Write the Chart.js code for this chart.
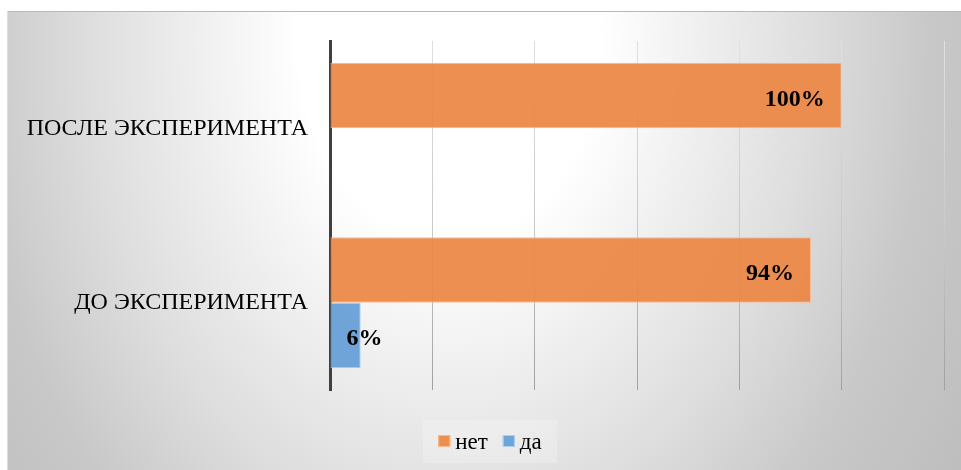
<!DOCTYPE html>
<html>
<head>
<meta charset="utf-8">
<script src="https://cdn.jsdelivr.net/npm/chart.js@4.4.1/dist/chart.umd.min.js"></script>
<style>
  html, body { margin: 0; padding: 0; background: #fff; }
  canvas { display: block; }
</style>
</head>
<body>
<canvas id="c" width="961" height="470"></canvas>
<script>
// Categories (top to bottom) and the two answer series, in percent
const categories = ['ПОСЛЕ ЭКСПЕРИМЕНТА', 'ДО ЭКСПЕРИМЕНТА'];
const seriesNames = ['нет', 'да'];
const netValues = [100, 94];
const daValues = [0, 6];
// Value axis: 0..120 with a gridline every 20 (tick labels hidden)
const axisMin = 0;
const axisMax = 120;
const axisStep = 20;

const SERIF = "'Liberation Serif', 'Times New Roman', serif";
const ORANGE = 'rgba(236,135,68,0.93)';
const ORANGE_EDGE = 'rgba(247,186,146,1)';
const BLUE = 'rgba(100,158,214,0.93)';
const BLUE_EDGE = 'rgba(176,206,234,1)';

// Light radial backdrop with a thin frame
const backdrop = {
  id: 'backdrop',
  beforeDraw(chart) {
    const { ctx, width, height } = chart;
    const fx = 7, fy = 11;
    ctx.save();
    ctx.fillStyle = '#ffffff';
    ctx.fillRect(0, 0, width, height);
    ctx.beginPath();
    ctx.rect(fx, fy, width - fx, height - fy);
    ctx.clip();
    const cx = 450, cy = 40, rx = 600, ry = 800;
    ctx.translate(cx, cy);
    ctx.scale(1, ry / rx);
    const g = ctx.createRadialGradient(0, 0, 0, 0, 0, rx);
    g.addColorStop(0, '#ffffff');
    g.addColorStop(0.25, '#ffffff');
    g.addColorStop(0.6, '#dedede');
    g.addColorStop(0.8, '#c8c8c8');
    g.addColorStop(1, '#bebebe');
    ctx.fillStyle = g;
    ctx.fillRect(-3000, -3000, 6000, 6000);
    ctx.restore();
    ctx.save();
    ctx.strokeStyle = '#b8b8b8';
    ctx.lineWidth = 1;
    ctx.beginPath();
    ctx.moveTo(fx, fy + 0.5);
    ctx.lineTo(width, fy + 0.5);
    ctx.stroke();
    ctx.strokeStyle = '#dedede';
    ctx.beginPath();
    ctx.moveTo(fx + 0.5, fy);
    ctx.lineTo(fx + 0.5, height);
    ctx.stroke();
    ctx.restore();
  }
};

// Bold percentage labels at the inner end of each bar
const valueLabels = {
  id: 'valueLabels',
  afterDatasetsDraw(chart) {
    const { ctx } = chart;
    ctx.save();
    ctx.font = 'bold 24px ' + SERIF;
    ctx.fillStyle = '#000';
    ctx.textBaseline = 'alphabetic';
    ctx.textAlign = 'left';
    chart.data.datasets.forEach((ds, di) => {
      const meta = chart.getDatasetMeta(di);
      meta.data.forEach((bar, i) => {
        const v = ds.data[i];
        if (!v) return;
        const text = v + '%';
        const w = ctx.measureText(text).width;
        const x = Math.max(bar.x - 17 - w, bar.base + 16);
        ctx.fillText(text, x, bar.y + 10);
      });
    });
    ctx.restore();
  }
};

// Legend drawn centered below the plot on a light panel
const bottomLegend = {
  id: 'bottomLegend',
  afterDraw(chart) {
    const { ctx } = chart;
    const cx = 490, cy = 442;
    ctx.save();
    ctx.font = '23px ' + SERIF;
    const items = chart.data.datasets.map(ds => ({
      label: ds.label, fill: ds.backgroundColor, edge: ds.borderColor,
      w: ctx.measureText(ds.label).width
    }));
    const box = 12, gapText = 5, gapItem = 15;
    let total = 0;
    items.forEach((it, i) => { total += box + gapText + it.w + (i ? gapItem : 0); });
    ctx.fillStyle = 'rgba(255,255,255,0.22)';
    ctx.fillRect(cx - 67, cy - 22, 134, 43);
    let x = cx - total / 2;
    ctx.textBaseline = 'middle';
    items.forEach((it, i) => {
      if (i) x += gapItem;
      ctx.fillStyle = it.fill;
      ctx.fillRect(x, cy - 7, box, box);
      ctx.strokeStyle = it.edge;
      ctx.lineWidth = 1;
      ctx.strokeRect(x + 0.5, cy - 6.5, box - 1, box - 1);
      x += box + gapText;
      ctx.fillStyle = '#000';
      ctx.fillText(it.label, x, cy + 1);
      x += it.w;
    });
    ctx.restore();
  }
};

function gridColor(context) {
  const chart = context.chart;
  if (context.index === 0) return 'rgba(0,0,0,0)';
  const area = chart.chartArea;
  if (!area) return '#d0d0d0';
  const g = chart.ctx.createLinearGradient(0, area.top, 0, area.bottom);
  g.addColorStop(0, '#e0e0e0');
  g.addColorStop(0.6, '#c6c6c6');
  g.addColorStop(1, '#a0a0a0');
  return g;
}

new Chart(document.getElementById('c'), {
  type: 'bar',
  data: {
    labels: categories,
    datasets: [
      { label: seriesNames[0], data: netValues, backgroundColor: ORANGE, borderColor: ORANGE_EDGE, borderWidth: 1 },
      { label: seriesNames[1], data: daValues, backgroundColor: BLUE, borderColor: BLUE_EDGE, borderWidth: 1 }
    ]
  },
  options: {
    indexAxis: 'y',
    responsive: false,
    animation: false,
    devicePixelRatio: 1,
    categoryPercentage: 0.75,
    barPercentage: 1.0,
    layout: { padding: { left: 7, top: 41, right: 17, bottom: 80 } },
    plugins: { legend: { display: false }, tooltip: { enabled: false } },
    scales: {
      x: {
        min: axisMin, max: axisMax,
        ticks: { display: false, stepSize: axisStep },
        grid: { color: gridColor, lineWidth: 1, drawTicks: false },
        border: { display: false },
        afterFit(scale) { scale.height = 0; }
      },
      y: {
        grid: { display: false, drawTicks: false },
        border: { display: true, color: '#404040', width: 3 },
        ticks: { color: '#000', font: { family: SERIF, size: 24 }, padding: 22 },
        afterFit(scale) { scale.width = 323; }
      }
    }
  },
  plugins: [backdrop, valueLabels, bottomLegend]
});
</script>
</body>
</html>
